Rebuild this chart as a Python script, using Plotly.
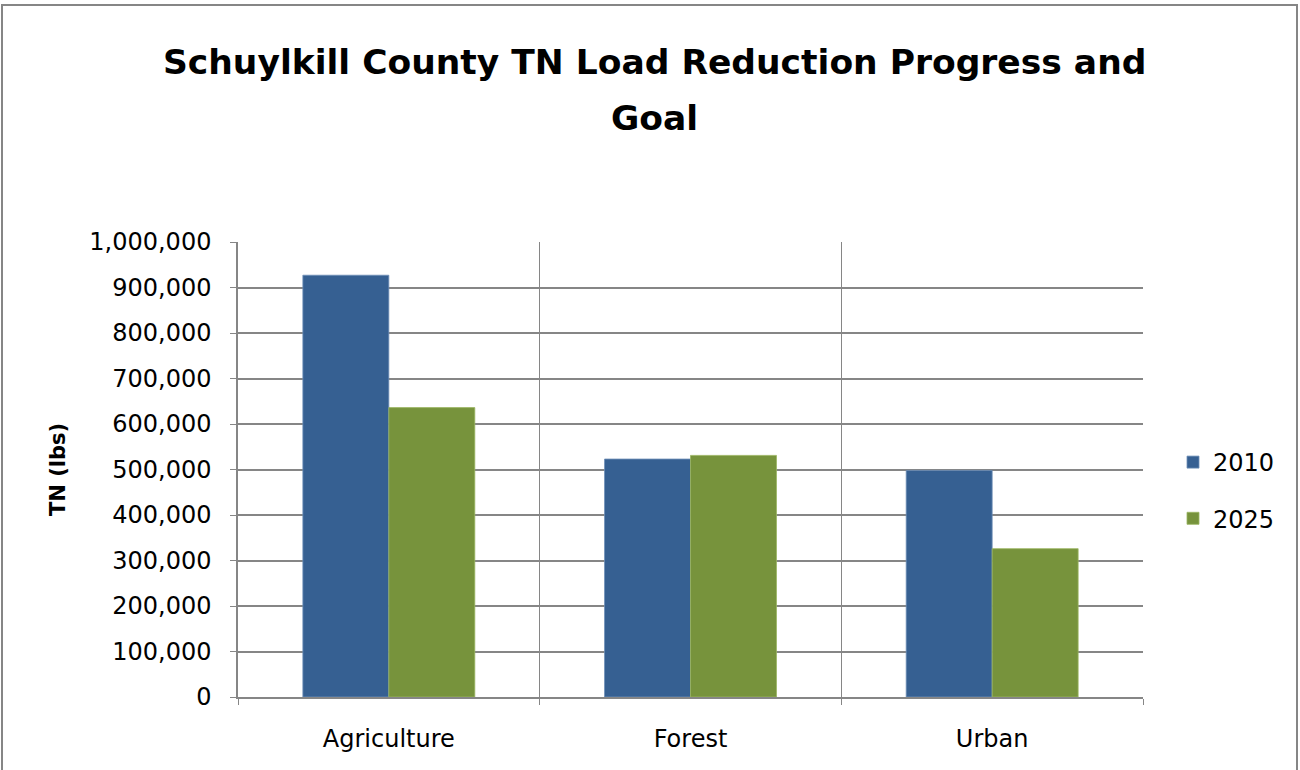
import plotly.graph_objects as go

categories = ["Agriculture", "Forest", "Urban"]
series_names = ["2010", "2025"]
values_2010 = [927000, 523000, 498000]
values_2025 = [636000, 531000, 326000]
colors = ["#366092", "#77933C"]
outline_colors = ["#6f8fb8", "#9bb561"]
y_ticks = list(range(0, 1000001, 100000))
y_ticktext = [f"{v:,}" for v in y_ticks]
title_lines = ["Schuylkill County TN Load Reduction Progress and", "Goal"]

W, H = 1300, 770
L, R, T, B = 238, 1300 - 1143, 242, 770 - 697
PW, PH = W - L - R, H - T - B
FONT = "DejaVu Sans, Verdana, sans-serif"

x_pos = list(range(len(categories)))

fig = go.Figure()
for name, vals, col, oc in zip(series_names, [values_2010, values_2025], colors, outline_colors):
    fig.add_trace(go.Bar(
        x=x_pos, y=vals, name=name, legendgroup=name,
        marker=dict(color=col, line=dict(color=oc, width=0.8)),
    ))

fig.update_layout(
    width=W, height=H,
    margin=dict(l=L, r=R, t=T, b=B, pad=0),
    paper_bgcolor="white", plot_bgcolor="white",
    barmode="group", bargap=0.43, bargroupgap=0,
    font=dict(family=FONT, size=24, color="#000000"),
    legend=dict(
        x=1 + 30 / PW, xanchor="left", y=0.5 - 21 / PH, yanchor="middle",
        font=dict(size=24), tracegroupgap=22, itemwidth=30,
        bgcolor="rgba(0,0,0,0)",
    ),
    showlegend=True,
)

title_y = [62, 118]
for txt, yy in zip(title_lines, title_y):
    fig.add_annotation(
        text=f"<b>{txt}</b>", xref="paper", yref="paper",
        x=(654 - L) / PW, y=1 + (T - yy) / PH, xanchor="center", yanchor="middle",
        showarrow=False, font=dict(family=FONT, size=34.5, color="#000000"),
    )

fig.update_xaxes(
    range=[-0.5, 2.5], tickvals=x_pos, ticktext=categories,
    showgrid=False, ticks="", showline=True, linecolor="#868686", linewidth=1.5,
    tickfont=dict(size=24), ticklabelstandoff=19,
    minor=dict(tick0=-0.5, dtick=1, showgrid=True, gridcolor="#868686", gridwidth=1.2,
               ticks="outside", ticklen=6, tickcolor="#868686"),
    zeroline=False, fixedrange=True,
)
fig.update_yaxes(
    range=[0, 1000000], tickvals=y_ticks, ticktext=y_ticktext,
    showgrid=True, gridcolor="#868686", gridwidth=1.5,
    showline=True, linecolor="#868686", linewidth=1.5,
    ticks="outside", ticklen=6, tickcolor="#868686",
    tickfont=dict(size=24), ticklabelstandoff=14, zeroline=False,
    title=dict(text="<b>TN (lbs)</b>", font=dict(size=21), standoff=18),
)

fig.add_shape(type="rect", xref="paper", yref="paper",
              x0=(2 - L) / PW, x1=1 + (R - 3) / PW,
              y0=-1, y1=1 + (T - 5) / PH,
              line=dict(color="#868686", width=2), fillcolor="rgba(0,0,0,0)", layer="below")

fig.write_html("out.html", config={"displayModeBar": False},
               post_script="document.body.style.margin='0';document.body.style.overflow='hidden';")
